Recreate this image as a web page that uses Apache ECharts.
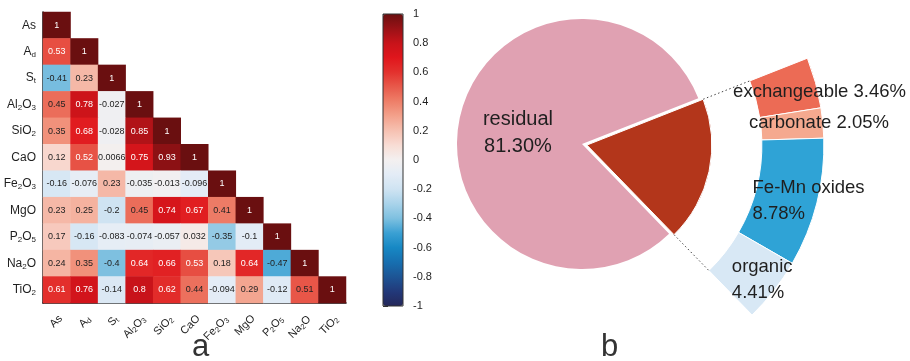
<!DOCTYPE html>
<html>
<head>
<meta charset="utf-8">
<script src="https://cdn.jsdelivr.net/npm/echarts@6/dist/echarts.min.js"></script>
<style>
  html, body { margin: 0; padding: 0; background: #fff; }
  #chart { width: 910px; height: 361px; }
</style>
</head>
<body>
<div id="chart"></div>
<script>
// ---- data ------------------------------------------------------------
// Variables of the correlation matrix ("_x" marks a subscript character)
const variables = ['As', 'A_d', 'S_t', 'Al_2O_3', 'SiO_2', 'CaO', 'Fe_2O_3', 'MgO', 'P_2O_5', 'Na_2O', 'TiO_2'];

// Lower triangle of the correlation matrix, one array per row
const corrAs    = [1];
const corrAd    = [0.53, 1];
const corrSt    = [-0.41, 0.23, 1];
const corrAl2O3 = [0.45, 0.78, -0.027, 1];
const corrSiO2  = [0.35, 0.68, -0.028, 0.85, 1];
const corrCaO   = [0.12, 0.52, 0.0066, 0.75, 0.93, 1];
const corrFe2O3 = [-0.16, -0.076, 0.23, -0.035, -0.013, -0.096, 1];
const corrMgO   = [0.23, 0.25, -0.2, 0.45, 0.74, 0.67, 0.41, 1];
const corrP2O5  = [0.17, -0.16, -0.083, -0.074, -0.057, 0.032, -0.35, -0.1, 1];
const corrNa2O  = [0.24, 0.35, -0.4, 0.64, 0.66, 0.53, 0.18, 0.64, -0.47, 1];
const corrTiO2  = [0.61, 0.76, -0.14, 0.8, 0.62, 0.44, -0.094, 0.29, -0.12, 0.51, 1];
const corrRows = [corrAs, corrAd, corrSt, corrAl2O3, corrSiO2, corrCaO, corrFe2O3, corrMgO, corrP2O5, corrNa2O, corrTiO2];

// Colour-bar scale
const scaleMin = -1;
const scaleMax = 1;
const scaleStep = 0.2;

// Arsenic speciation (%)
const residualName = 'residual';
const residualShare = 81.30;
const fractionNames = ['exchangeable', 'carbonate', 'Fe-Mn oxides', 'organic'];
const fractionShares = [3.46, 2.05, 8.78, 4.41];

// ---- styles ----------------------------------------------------------
const FONT = '"Liberation Sans", Arial, Helvetica, sans-serif';
const TEXT = '#1f1f1f';
const rampColors = [
  '#24275a', '#22397a', '#1d5595', '#176fb0', '#1788c4', '#3aa0d3', '#7ec0e0',
  '#a9d3ea', '#cfe3f2', '#e3ecf6', '#f3f0f0', '#f8ddd5', '#f6c1b2', '#f3a28c',
  '#ee7f69', '#e85a4b', '#e3322e', '#e0161c', '#c8131a', '#9a1216', '#6a0f10'
];
const fractionColors = ['#ec6b55', '#f5a98f', '#2fa3d6', '#d8e8f5'];
// per-fraction label placement: [two lines?, align, dx, dy]
const fractionLabelLayout = [
  [false, 'center', 31, 2],
  [false, 'center', 24, -3],
  [true, 'left', -37, 5],
  [true, 'left', -20, 7]
];

const subName = s => s.replace(/_(.)/g, '{s|$1}');
const subRich = (subSize, pad) => ({
  s: { fontSize: subSize, fontFamily: FONT, color: TEXT, padding: [pad, 0, 0, 0] }
});

// heatmap cells [column, row, value]
const cells = [];
corrRows.forEach((row, i) => row.forEach((v, j) => cells.push([j, i, v])));

// pie geometry
const pieCenter = [582, 144];
const pieRadius = 125;
const ringRadius = [175, 237];
const startAngle = 21.5;
const explode = 5;
const fractionTotal = fractionShares.reduce((a, b) => a + b, 0);
const wedgeSpan = fractionTotal / (fractionTotal + residualShare) * 360;
const wedgeMid = (startAngle - wedgeSpan / 2) * Math.PI / 180;
const ringCenter = [pieCenter[0] + explode * Math.cos(wedgeMid), pieCenter[1] - explode * Math.sin(wedgeMid)];

// dotted connectors along the wedge edges, from the pie rim to the ring
const connectors = [startAngle, startAngle - wedgeSpan].map(a => {
  const r = a * Math.PI / 180;
  return {
    type: 'line', z: 10, silent: true,
    shape: {
      x1: ringCenter[0] + pieRadius * Math.cos(r), y1: ringCenter[1] - pieRadius * Math.sin(r),
      x2: ringCenter[0] + ringRadius[0] * Math.cos(r), y2: ringCenter[1] - ringRadius[0] * Math.sin(r)
    },
    style: { stroke: '#444', lineWidth: 1, lineDash: [1.5, 2.5] }
  };
});

const ringData = fractionNames.map((n, i) => ({
  name: n, value: fractionShares[i], itemStyle: { color: fractionColors[i] }
}));
ringData.push({
  name: residualName, value: residualShare,
  itemStyle: { color: 'transparent', borderWidth: 0 },
  label: { show: false }, emphasis: { disabled: true }
});

const ringLabel = p => {
  const L = fractionLabelLayout[p.dataIndex];
  if (!L) return '';
  return p.name + (L[0] ? '\n' : ' ') + p.value.toFixed(2) + '%';
};

const chart = echarts.init(document.getElementById('chart'), null, { renderer: 'canvas' });
chart.setOption({
  animation: false,
  textStyle: { fontFamily: FONT },
  grid: [
    { left: 43, top: 12, width: 303, height: 291 },
    { left: 383, top: 14, width: 20, height: 292, show: true, z: 10,
      backgroundColor: 'transparent', borderColor: '#333', borderWidth: 1 }
  ],
  xAxis: [
    {
      type: 'category', gridIndex: 0, data: variables,
      axisLine: { show: true, lineStyle: { color: '#111', width: 1.5 } },
      axisTick: { show: false }, splitLine: { show: false },
      axisLabel: {
        rotate: 45, margin: 10, verticalAlign: 'top', interval: 0,
        fontSize: 11, color: TEXT, fontFamily: FONT,
        formatter: subName, rich: subRich(7.5, 5)
      }
    },
    { type: 'value', gridIndex: 1, show: false, min: 0, max: 1 }
  ],
  yAxis: [
    {
      type: 'category', gridIndex: 0, data: variables, inverse: true,
      axisLine: { show: true, lineStyle: { color: '#111', width: 1.5 } },
      axisTick: { show: false }, splitLine: { show: false },
      axisLabel: {
        margin: 7, interval: 0, fontSize: 12, color: TEXT, fontFamily: FONT,
        formatter: subName, rich: subRich(8, 6)
      }
    },
    {
      type: 'value', gridIndex: 1, position: 'right',
      min: scaleMin, max: scaleMax, interval: scaleStep,
      axisLine: { show: false },
      axisTick: { show: true, length: 5, lineStyle: { color: '#333' } },
      splitLine: { show: false },
      axisLabel: {
        margin: 10, fontSize: 11, color: TEXT, fontFamily: FONT,
        formatter: v => String(Math.round(v * 10) / 10)
      }
    }
  ],
  visualMap: {
    type: 'continuous', seriesIndex: 0, min: scaleMin, max: scaleMax,
    left: 383, top: 14, itemWidth: 20, itemHeight: 292, padding: 0,
    calculable: false, showLabel: false, text: null, hoverLink: false,
    inRange: { color: rampColors }
  },
  series: [
    {
      type: 'heatmap', xAxisIndex: 0, yAxisIndex: 0, data: cells,
      itemStyle: { borderWidth: 0 },
      emphasis: { disabled: true },
      label: {
        show: true, fontSize: 9, fontFamily: FONT,
        formatter: p => (p.value[2] >= 0.52 ? '{w|' : '{k|') + p.value[2] + '}',
        rich: {
          w: { color: '#fff', fontSize: 9, fontFamily: FONT },
          k: { color: '#222', fontSize: 9, fontFamily: FONT }
        }
      }
    },
    {
      type: 'pie', center: pieCenter, radius: pieRadius, startAngle: startAngle,
      clockwise: true, selectedMode: 'single', selectedOffset: explode,
      avoidLabelOverlap: false, labelLine: { show: false },
      emphasis: { disabled: true },
      label: {
        show: true, position: 'inside', fontSize: 20, lineHeight: 27,
        color: TEXT, fontFamily: FONT,
        formatter: p => p.name + '\n' + p.value.toFixed(2) + '%'
      },
      labelLayout: { dy: 3 },
      data: [
        { name: 'fractions', value: fractionTotal, selected: true,
          itemStyle: { color: '#b3361b', borderColor: '#fff', borderWidth: 1 },
          label: { show: false } },
        { name: residualName, value: residualShare, itemStyle: { color: '#e0a1b2' } }
      ]
    },
    {
      type: 'pie', center: ringCenter, radius: ringRadius, startAngle: startAngle,
      clockwise: true, avoidLabelOverlap: false, labelLine: { show: false },
      emphasis: { disabled: true },
      itemStyle: { borderColor: '#fff', borderWidth: 1 },
      label: {
        show: true, position: 'inside', fontSize: 18.5, lineHeight: 26,
        color: TEXT, fontFamily: FONT, formatter: ringLabel
      },
      labelLayout: p => {
        const L = fractionLabelLayout[p.dataIndex];
        return L ? { dx: L[2], dy: L[3], align: L[1] } : {};
      },
      data: ringData
    }
  ],
  graphic: connectors.concat([
    { type: 'text', left: 192, top: 332, silent: true,
      style: { text: 'a', fontSize: 31, fill: '#333', fontFamily: FONT } },
    { type: 'text', left: 601, top: 332, silent: true,
      style: { text: 'b', fontSize: 31, fill: '#333', fontFamily: FONT } }
  ])
});
</script>
</body>
</html>
